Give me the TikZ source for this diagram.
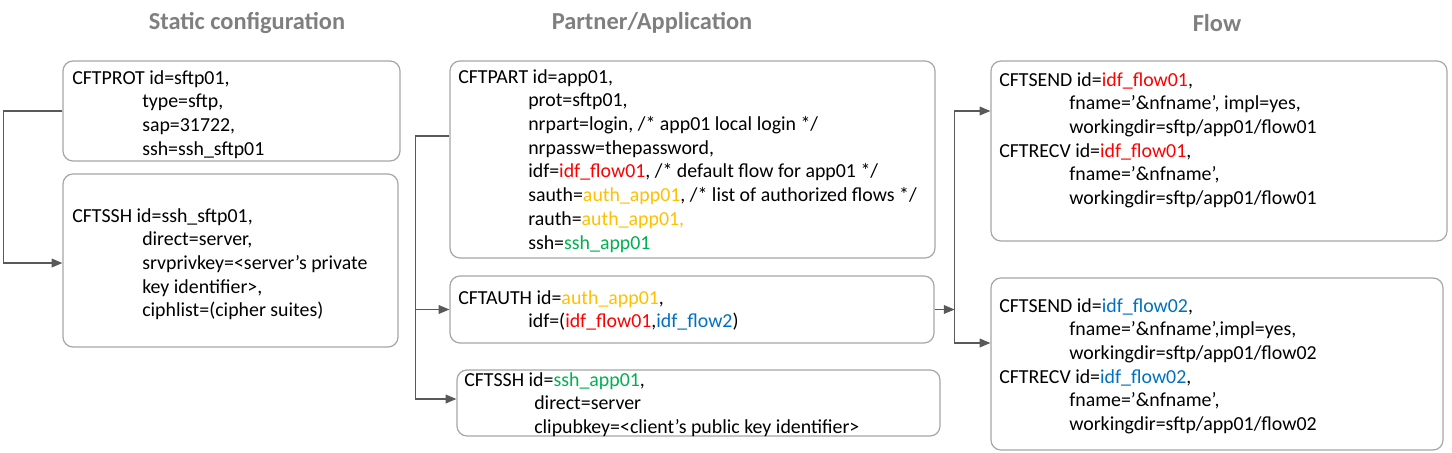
\documentclass[tikz,border=0pt]{standalone}
\usepackage{fontspec}
\setmainfont{Carlito}
\usepackage{xcolor}
\usetikzlibrary{arrows.meta,fit,positioning}

\definecolor{boxgrey}{HTML}{A6A6A6}
\definecolor{linkgrey}{HTML}{595959}
\definecolor{titlegrey}{HTML}{7F7F7F}
\definecolor{cred}{HTML}{FF0000}
\definecolor{corange}{HTML}{FFC000}
\definecolor{cgreen}{HTML}{00B050}
\definecolor{cblue}{HTML}{0070C0}

\newcommand{\ind}{\hspace*{52.5pt}}
\newcommand{\red}[1]{\textcolor{cred}{#1}}
\newcommand{\org}[1]{\textcolor{corange}{#1}}
\newcommand{\grn}[1]{\textcolor{cgreen}{#1}}
\newcommand{\blu}[1]{\textcolor{cblue}{#1}}

\tikzset{
  box/.style={draw=boxgrey, line width=0.9pt, rounded corners=7.5pt, inner sep=0pt},
  txt/.style={inner sep=0pt, align=left, anchor=north west, font=\fontsize{14.9}{17.8}\selectfont},
  title/.style={inner sep=0pt, text=titlegrey, font=\fontsize{18.3}{22}\selectfont\bfseries},
  link/.style={draw=linkgrey, line width=0.9pt, -{Triangle[length=8pt,width=6.5pt]}},
}

\begin{document}
\begin{tikzpicture}[x=0.75pt,y=-0.75pt]
\useasboundingbox (0,0) rectangle (1452,453);

% column titles
\node[title] (tstat) at (247,23) {Static configuration};
\node[title] (tpart) at (652,23) {Partner/Application};
\node[title] (tflow) at (1217,23) {Flow};

% boxes
\node[box, fit={(63,61) (400,161)}] (prot) {};
\node[box, fit={(63,174) (398,347)}] (srv) {};
\node[box, fit={(450,61) (935,258)}] (part) {};
\node[box, fit={(450,276) (934,343)}] (auth) {};
\node[box, fit={(457,370) (940,436)}] (cli) {};
\node[box, fit={(991,61) (1447,241)}] (flowA) {};
\node[box, fit={(991,278) (1443,450)}] (flowB) {};

% static configuration
\node[txt] (protT) at (72,70) {CFTPROT id=sftp01,\\
\ind type=sftp,\\
\ind sap=31722,\\
\ind ssh=ssh\_sftp01};
\node[txt] (srvT) at (72,208) {CFTSSH id=ssh\_sftp01,\\
\ind direct=server,\\
\ind srvprivkey=<server’s private\\
\ind key identifier>,\\
\ind ciphlist=(cipher suites)};

% partner / application
\node[txt] (partT) at (458,69) {CFTPART id=app01,\\
\ind prot=sftp01,\\
\ind nrpart=login, /* app01 local login */\\
\ind nrpassw=thepassword,\\
\ind idf=\red{idf\_flow01}, /* default flow for app01 */\\
\ind sauth=\org{auth\_app01}, /* list of authorized flows */\\
\ind rauth=\org{auth\_app01,}\\
\ind ssh=\grn{ssh\_app01}};
\node[txt] (authT) at (458,290) {CFTAUTH id=\org{auth\_app01},\\
\ind idf=(\red{idf\_flow01},\blu{idf\_flow2})};
\node[txt] (cliT) at (464,372) {CFTSSH id=\grn{ssh\_app01},\\
\ind direct=server\\
\ind clipubkey=<client’s public key identifier>};

% flows
\node[txt] (flowAT) at (999,72) {CFTSEND id=\red{idf\_flow01},\\
\ind fname=’\&nfname’, impl=yes,\\
\ind workingdir=sftp/app01/flow01\\
CFTRECV id=\red{idf\_flow01},\\
\ind fname=’\&nfname’,\\
\ind workingdir=sftp/app01/flow01};
\node[txt] (flowBT) at (999,298) {CFTSEND id=\blu{idf\_flow02},\\
\ind fname=’\&nfname’,impl=yes,\\
\ind workingdir=sftp/app01/flow02\\
CFTRECV id=\blu{idf\_flow02},\\
\ind fname=’\&nfname’,\\
\ind workingdir=sftp/app01/flow02};

% connectors
\draw[link] (prot.west) -- ++(-59,0) |- ([yshift=-1.9pt]srv.west);
\draw[draw=linkgrey, line width=0.9pt] ([yshift=17.6pt]part.west) -- ++(-34,0) coordinate (pb);
\draw[link] (pb) |- (auth.west);
\draw[link] (pb) |- ([yshift=3pt]cli.west);
\draw[link] (auth.east) -- ++(20,0) coordinate (ab);
\draw[link] (ab) |- ([yshift=30pt]flowA.west);
\draw[link] (ab) |- ([yshift=15.75pt]flowB.west);
\end{tikzpicture}
\end{document}
